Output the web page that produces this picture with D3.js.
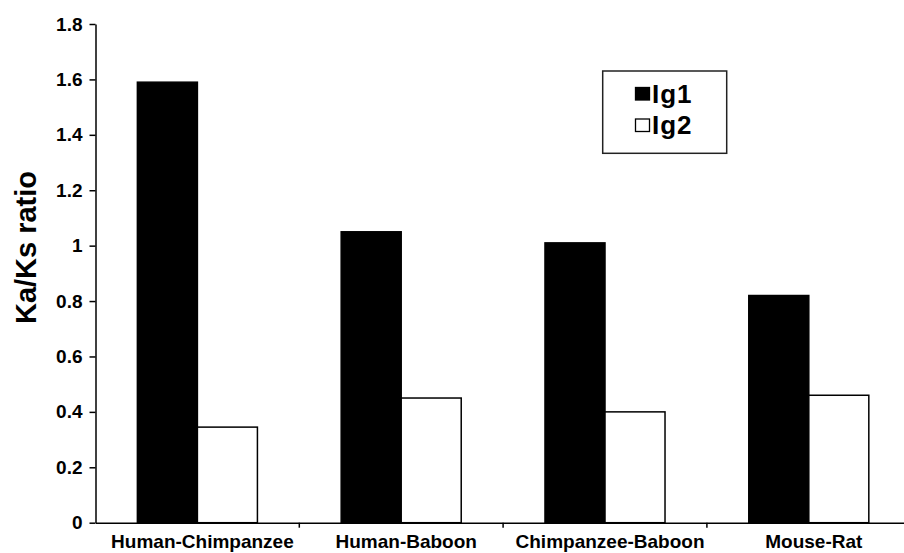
<!DOCTYPE html>
<html>
<head>
<meta charset="utf-8">
<script src="https://cdn.jsdelivr.net/npm/d3@7"></script>
<style>
  body { margin: 0; background: #fff; }
  svg { display: block; }
  text { font-family: "Liberation Sans", Arial, Helvetica, sans-serif; font-weight: bold; fill: #000; }
</style>
</head>
<body>
<svg id="chart" width="904" height="553"></svg>
<script>
const categories = ["Human-Chimpanzee", "Human-Baboon", "Chimpanzee-Baboon", "Mouse-Rat"];
const seriesNames = ["Ig1", "Ig2"];
const ig1 = [1.59, 1.05, 1.01, 0.82];
const ig2 = [0.345, 0.45, 0.40, 0.46];
const yTicks = [0, 0.2, 0.4, 0.6, 0.8, 1, 1.2, 1.4, 1.6, 1.8];
const yTitle = "Ka/Ks ratio";

const svg = d3.select("#chart");
const x0 = 95.5, x1 = 910.7, y0 = 522.7, yTop = 24;

const x = d3.scaleBand().domain(categories).range([x0, x1]).paddingInner(0.411).paddingOuter(0.2055);
const xs = d3.scaleBand().domain(seriesNames).range([0, x.bandwidth()]);
const y = d3.scaleLinear().domain([0, 1.8]).range([y0, yTop]);
const color = d3.scaleOrdinal().domain(seriesNames).range(["#000", "#fff"]);

const rows = categories.map((c, i) => ({ cat: c, vals: [ig1[i], ig2[i]] }));

// bars
const g = svg.append("g");
rows.forEach(r => {
  r.vals.forEach((v, j) => {
    const s = seriesNames[j];
    g.append("rect")
      .attr("x", x(r.cat) + xs(s))
      .attr("y", y(v))
      .attr("width", xs.bandwidth())
      .attr("height", y(0) - y(v))
      .attr("fill", color(s))
      .attr("stroke", "#000")
      .attr("stroke-width", 1.5);
  });
});

// y axis
const yAxis = svg.append("g")
  .attr("transform", `translate(${x0},0)`)
  .call(d3.axisLeft(y).tickValues(yTicks).tickSize(6).tickSizeOuter(0).tickPadding(7)
    .tickFormat(d => d === 0 ? "0" : (Number.isInteger(d) ? String(d) : d3.format(".1f")(d))));
yAxis.select(".domain").attr("stroke", "#000").attr("stroke-width", 1.5);
yAxis.selectAll(".tick line").attr("stroke", "#000").attr("stroke-width", 1.5);
yAxis.selectAll(".tick text").style("font-size", "19px").style("font-family", "'Liberation Sans', Arial, sans-serif").style("font-weight", "bold").attr("fill", "#000");

// x axis: labels
const xAxis = svg.append("g")
  .attr("transform", `translate(0,${y0})`)
  .call(d3.axisBottom(x).tickSize(0).tickSizeOuter(0).tickPadding(12));
xAxis.select(".domain").attr("stroke", "#000").attr("stroke-width", 1.5);
xAxis.selectAll(".tick text").style("font-size", "19px").style("font-family", "'Liberation Sans', Arial, sans-serif").style("font-weight", "bold").attr("fill", "#000").attr("dx", 5);

// x boundary ticks between categories
const boundaries = categories.slice(1).map(c => x(c) - x.step() * x.paddingInner() / 2);
svg.append("g").selectAll("line").data(boundaries).join("line")
  .attr("x1", d => d).attr("x2", d => d)
  .attr("y1", y0).attr("y2", y0 + 5)
  .attr("stroke", "#000").attr("stroke-width", 1.5);

// y title
svg.append("text")
  .attr("transform", `translate(36,247.5) rotate(-90)`)
  .attr("text-anchor", "middle")
  .style("font-size", "29px")
  .text(yTitle);

// legend
const lg = svg.append("g");
lg.append("rect").attr("x", 602.7).attr("y", 71).attr("width", 124).attr("height", 82.3)
  .attr("fill", "#fff").attr("stroke", "#222").attr("stroke-width", 1.5);
seriesNames.forEach((s, i) => {
  const cy = 94 + i * 31.5;
  lg.append("rect").attr("x", 635.5).attr("y", cy - 6.5).attr("width", 14).attr("height", 12.5)
    .attr("fill", color(s)).attr("stroke", "#000").attr("stroke-width", 1.3);
  lg.append("text").attr("x", 652).attr("y", cy + 8.5)
    .style("font-size", "26px").style("letter-spacing", "1px")
    .text(s);
});
</script>
</body>
</html>
